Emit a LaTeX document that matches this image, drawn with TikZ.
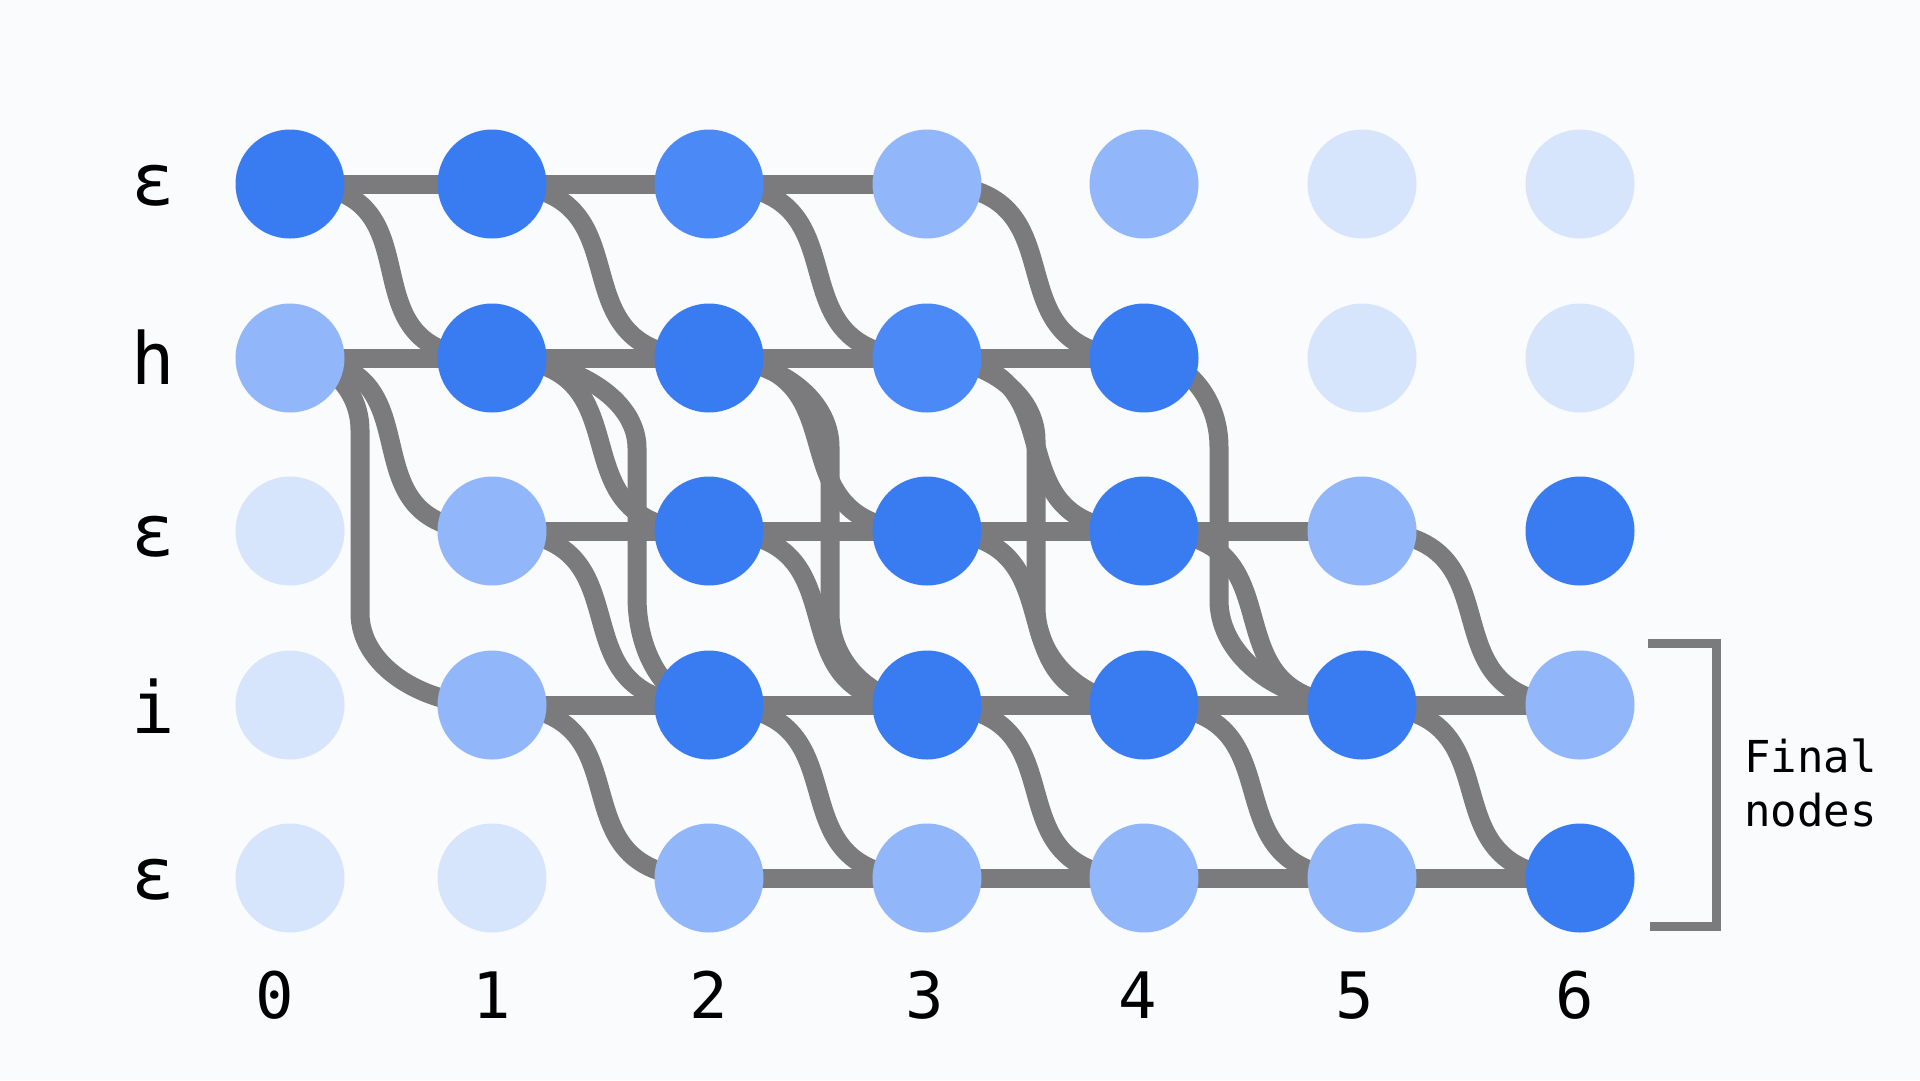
\documentclass[tikz,border=0pt]{standalone}
\usepackage{fontspec}
\newfontfamily\monofont{DejaVu Sans Mono}
\usetikzlibrary{calc}
\pgfdeclarelayer{backg}
\pgfdeclarelayer{edgelayer}
\pgfsetlayers{backg,edgelayer,main}
\definecolor{bgc}{HTML}{FAFBFC}
\definecolor{edgec}{HTML}{7B7B7E}
\definecolor{cD}{HTML}{397BF0}
\definecolor{cE}{HTML}{4B89F6}
\definecolor{cM}{HTML}{91B7FA}
\definecolor{cL}{HTML}{D6E4FC}
\tikzset{
  dot/.style={circle, minimum size=109pt, inner sep=0pt, draw=none},
  edge/.style={draw=edgec, line width=19pt},
  rowlbl/.style={font=\monofont\fontsize{72}{72}\selectfont, anchor=base, inner sep=0pt},
  collbl/.style={font=\monofont\fontsize{64}{64}\selectfont, anchor=base, inner sep=0pt},
  notelbl/.style={font=\monofont\fontsize{44}{44}\selectfont, anchor=base west, inner sep=0pt},
  brk/.style={draw=edgec, line width=9pt, line join=miter}
}
\begin{document}
\begin{tikzpicture}[x=1pt,y=-1pt]
\begin{pgfonlayer}{backg}
\fill[bgc] (0,0) rectangle (1920,1080);
\end{pgfonlayer}
\useasboundingbox (0,0) rectangle (1920,1080);

% lattice nodes
\foreach \r/\y/\cols in {0/184/{D,D,E,M,M,L,L},1/358/{M,D,D,E,D,L,L},2/531/{L,M,D,D,D,M,D},3/705/{L,M,D,D,D,D,M},4/878/{L,L,M,M,M,M,D}} {
  \foreach \col [count=\ci from 0] in \cols {
    \pgfmathsetmacro\xx{{290,492,709,927,1144,1362,1580}[\ci]}
    \node[dot, fill=c\col] (n-\r-\ci) at (\xx,\y) {};
  }
}

\begin{pgfonlayer}{edgelayer}
% horizontal edges
\foreach \r/\a/\b in {0/0/2,1/0/3,2/1/4,3/1/5,4/2/5} {
  \foreach \c in {\a,...,\b} {
    \pgfmathtruncatemacro\cn{\c+1}
    \draw[edge] (n-\r-\c.center) -- (n-\r-\cn.center);
  }
}
% diagonal edges
\foreach \r/\a/\b in {0/0/3,1/0/3,2/1/5,3/1/5} {
  \foreach \c in {\a,...,\b} {
    \pgfmathtruncatemacro\cn{\c+1}
    \pgfmathtruncatemacro\rn{\r+1}
    \draw[edge] (n-\r-\c.center) to[out=0,in=180,looseness=1.55] (n-\rn-\cn.center);
  }
}
% skip edges h -> i
\foreach \c/\rxa/\rya/\rxb/\ryb in {0/70/72/132/92,1/145/90/72/108,2/121/89/97/92,3/109/82/108/98,4/75/89/143/105} {
  \pgfmathtruncatemacro\cn{\c+1}
  \draw[edge] (n-1-\c.center) .. controls +(0.552*\rxa,0) and +(0,-0.552*\rya) .. ++(\rxa,\rya)
     -- ($(n-3-\cn.center)+(-\rxb,-\ryb)$)
     .. controls +(0,0.552*\ryb) and +(-0.552*\rxb,0) .. (n-3-\cn.center);
}
\end{pgfonlayer}

% row labels
\node[rowlbl] (lab-0) at (153,205) {ε};
\node[rowlbl] (lab-1) at (153,384) {h};
\node[rowlbl] (lab-2) at (153,556) {ε};
\node[rowlbl] (lab-3) at (153,733) {i};
\node[rowlbl] (lab-4) at (153,899) {ε};

% column labels
\node[collbl] (col-0) at (275,1018) {0};
\node[collbl] (col-1) at (492,1018) {1};
\node[collbl] (col-2) at (709,1018) {2};
\node[collbl] (col-3) at (925,1018) {3};
\node[collbl] (col-4) at (1138,1018) {4};
\node[collbl] (col-5) at (1355,1018) {5};
\node[collbl] (col-6) at (1575,1018) {6};

% final nodes bracket
\draw[brk] (1648,643) -- (1716,643) -- (1716,926) -- (1650,926);
\node[notelbl] (fin-1) at (1744,772) {Final};
\node[notelbl] (fin-2) at (1744,826) {nodes};
\end{tikzpicture}
\end{document}
